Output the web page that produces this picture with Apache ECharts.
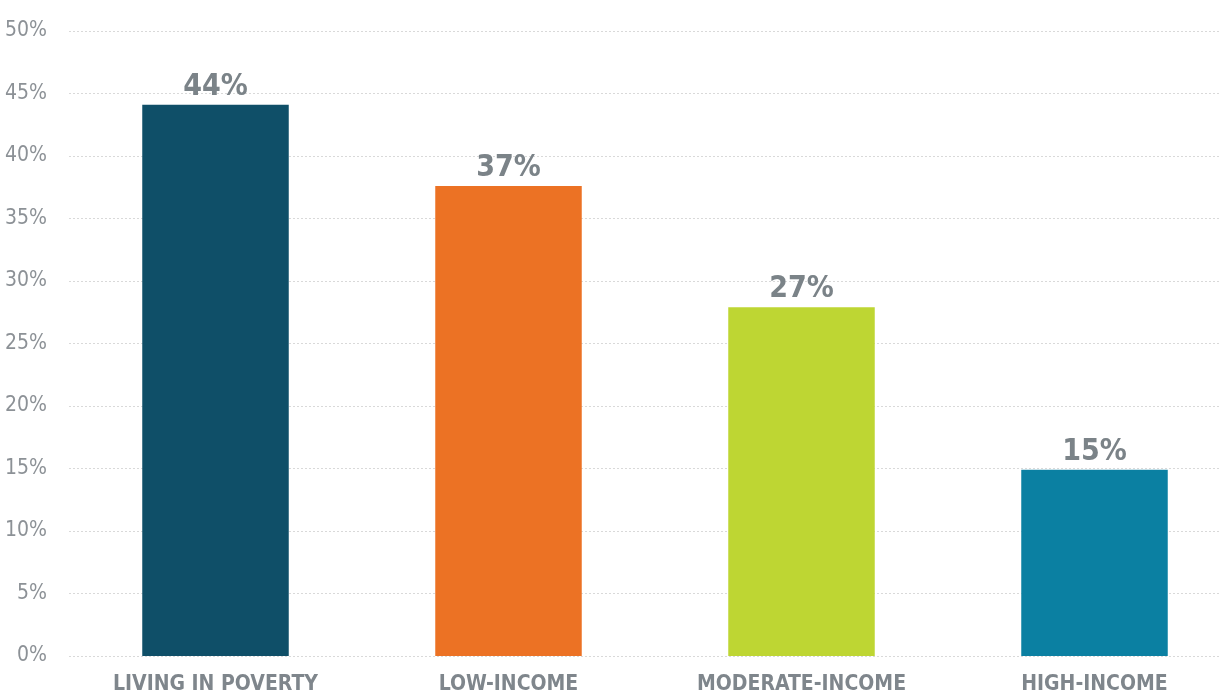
<!DOCTYPE html>
<html lang="en">
<head>
	<meta charset="UTF-8">
	<title>Income groups</title>
	<script src="https://cdn.jsdelivr.net/npm/echarts@6/dist/echarts.min.js"></script>
	<style>
		html, body { margin: 0; padding: 0; background: #fff; }
	</style>
</head>
<body>
	<div id="chart" style="width: 1220px;height: 698px;"></div>
</body>
<script type="text/javascript">
var categories = ['LIVING IN POVERTY', 'LOW-INCOME', 'MODERATE-INCOME', 'HIGH-INCOME'];
var values = [44.1, 37.6, 27.9, 14.9];
var valueLabels = ['44%', '37%', '27%', '15%'];
var barColors = ['#0f4f68', '#ec7224', '#bed633', '#0b80a2'];

var chart = echarts.init(document.getElementById('chart'));

var barData = [];
for (var i = 0; i < values.length; i++) {
    barData.push({ value: values[i], itemStyle: { color: barColors[i] } });
}

var option = {
    animation: false,
    grid: {
        left: 69,
        top: 31,
        width: 1172,
        bottom: 42,
        outerBoundsMode: 'none',
        containLabel: false
    },
    xAxis: {
        type: 'category',
        data: categories,
        axisLine: { show: false },
        axisTick: { show: false },
        axisLabel: {
            interval: 0,
            margin: 18,
            color: '#7f868c',
            fontSize: 21,
            fontWeight: 'bold',
            fontFamily: '"DejaVu Sans Condensed", sans-serif'
        }
    },
    yAxis: {
        type: 'value',
        min: 0,
        max: 50,
        interval: 5,
        axisLine: { show: false },
        axisTick: { show: false },
        axisLabel: {
            formatter: '{value}%',
            margin: 22,
            color: '#8c9196',
            fontSize: 21,
            fontFamily: '"DejaVu Sans Condensed", sans-serif'
        },
        splitLine: {
            lineStyle: { color: '#d9d9d9', type: [2, 2], width: 1 }
        }
    },
    series: [
        {
            type: 'bar',
            barWidth: '50%',
            data: barData,
            label: {
                show: true,
                position: 'top',
                distance: 3,
                color: '#7b8388',
                fontSize: 30,
                fontWeight: 'bold',
                fontFamily: '"DejaVu Sans Condensed", sans-serif',
                formatter: function (p) { return valueLabels[p.dataIndex]; }
            }
        }
    ]
};
chart.setOption(option);
</script>
</html>
